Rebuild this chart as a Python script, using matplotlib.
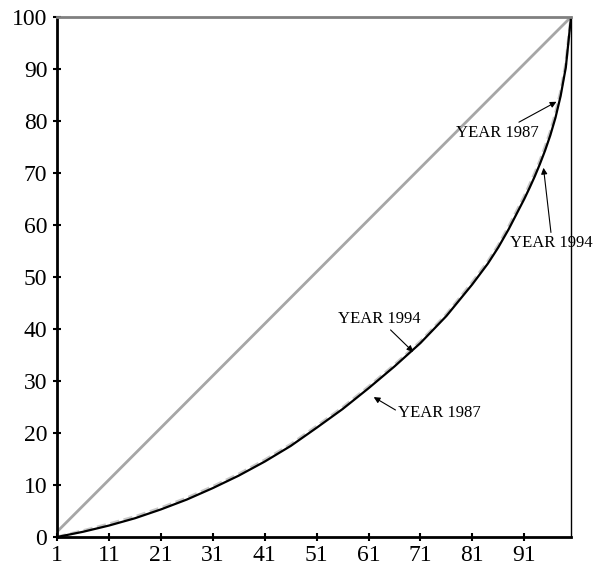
import matplotlib
matplotlib.use("Agg")
import matplotlib.pyplot as plt

# Data (percentiles of population vs cumulative share)
x_pts = [1, 6, 11, 16, 21, 26, 31, 36, 41, 46, 51, 56, 61, 66, 71, 76, 81, 84, 86, 88, 91, 92, 93, 94, 95, 96, 97, 98, 99, 100]
y_1994 = [0, 1.0, 2.2, 3.6, 5.3, 7.2, 9.4, 11.8, 14.5, 17.5, 21.0, 24.6, 28.6, 32.8, 37.3, 42.5, 48.6, 52.6, 55.7, 59.2, 65.0, 67.1, 69.3, 71.7, 74.3, 77.2, 80.6, 84.8, 90.3, 100]
y_1987 = [0, 1.2, 2.5, 3.9, 5.6, 7.5, 9.7, 12.1, 14.8, 17.8, 21.3, 24.9, 28.9, 33.1, 37.6, 42.8, 49.0, 53.0, 56.1, 59.7, 65.5, 67.7, 69.9, 72.3, 75.0, 77.9, 81.4, 85.6, 91.0, 100]
equal_x = [1, 100]
equal_y = [1, 100]
x_ticks = [1, 11, 21, 31, 41, 51, 61, 71, 81, 91]
y_ticks = [0, 10, 20, 30, 40, 50, 60, 70, 80, 90, 100]

plt.rcParams['font.family'] = ['Liberation Serif', 'DejaVu Serif']

fig = plt.figure(figsize=(5.96, 5.72), dpi=100)
ax = fig.add_axes([57/596, 1-537/572, (571-57)/596, (537-17)/572])

ax.plot(equal_x, equal_y, color='#a6a6a6', lw=2.0, solid_capstyle='butt')
ax.plot(x_pts, y_1987, color='#c8c8c8', lw=2.2, ls=(0, (3, 1.5)))
ax.plot(x_pts, y_1994, color='black', lw=1.6)

ax.set_xlim(1, 100)
ax.set_ylim(0, 100)
ax.set_xticks(x_ticks)
ax.set_yticks(y_ticks)
ax.tick_params(direction='inout', length=6, width=1.5, labelsize=17, colors='black')
ax.tick_params(axis='x', pad=3)
ax.tick_params(axis='y', pad=4)

for s in ['left', 'bottom']:
    ax.spines[s].set_linewidth(2.0)
    ax.spines[s].set_color('black')
ax.spines['right'].set_linewidth(1.0)
ax.spines['right'].set_color('black')
ax.spines['top'].set_linewidth(2.0)
ax.spines['top'].set_color('#808080')

arrow = dict(arrowstyle='-|>', color='black', lw=0.8, mutation_scale=9, shrinkA=0, shrinkB=0)
ax.annotate('YEAR 1987', xy=(97.2, 83.7), xytext=(85.8, 77.7), fontsize=12,
            ha='center', va='center', arrowprops=dict(arrow, relpos=(0.7, 1.0)))
ax.annotate('YEAR 1994', xy=(94.7, 71.0), xytext=(96.2, 56.5), fontsize=12,
            ha='center', va='center', arrowprops=dict(arrow, relpos=(0.5, 1.0)),
            annotation_clip=False)
ax.annotate('YEAR 1994', xy=(69.6, 35.6), xytext=(63.1, 41.9), fontsize=12,
            ha='center', va='center', arrowprops=dict(arrow, relpos=(0.6, 0.0)))
ax.annotate('YEAR 1987', xy=(62.0, 26.9), xytext=(74.7, 23.8), fontsize=12,
            ha='center', va='center', arrowprops=dict(arrow, relpos=(0.0, 0.6)))

fig.savefig('out.png', dpi=100)
